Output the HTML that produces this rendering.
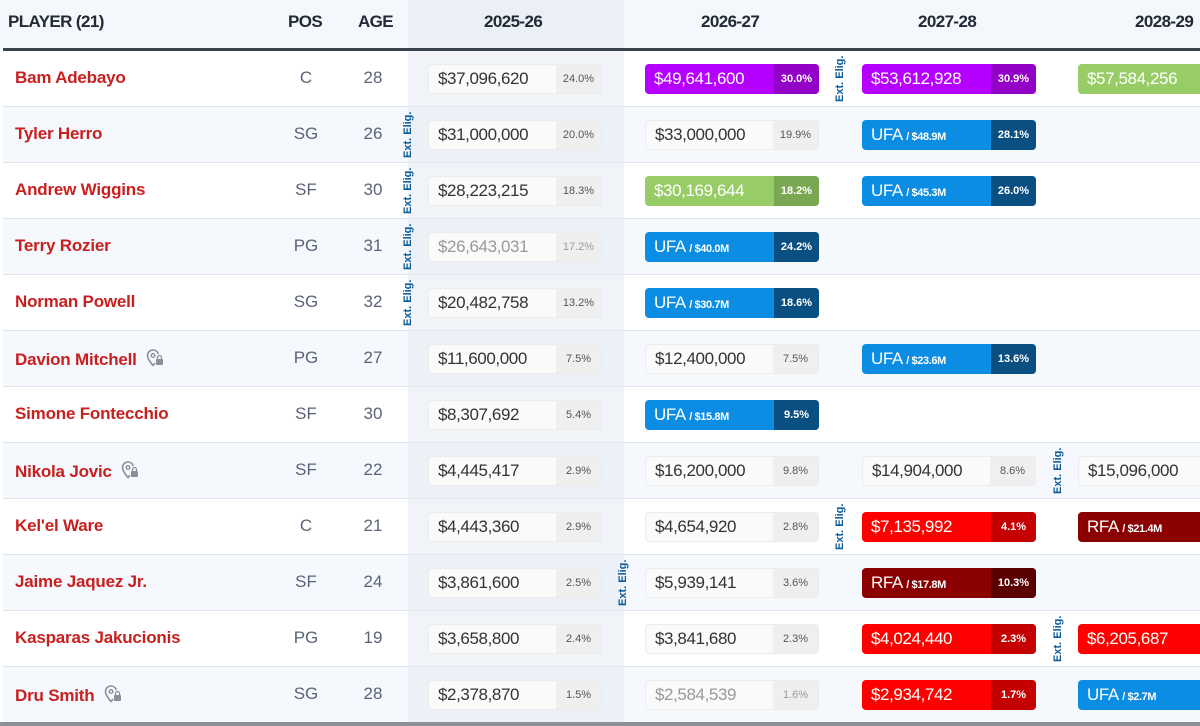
<!DOCTYPE html>
<html><head><meta charset="utf-8">
<style>
*{box-sizing:border-box;margin:0;padding:0}
body{width:1200px;height:726px;overflow:hidden;background:#fff;font-family:"Liberation Sans",Arial,sans-serif;position:relative}
#wrap{position:absolute;left:0;top:0;width:1200px;height:726px}
.abs{position:absolute}
.hdr{position:absolute;top:0;left:0;width:1200px;height:49px;background:#f4f7fb}
.hline{position:absolute;top:48px;left:3px;width:1197px;height:3px;background:#3a4250}
.ht{position:absolute;top:12px;font-size:17px;font-weight:bold;color:#222a36;letter-spacing:-0.6px}
.row{position:absolute;left:3px;width:1197px;height:56px;border-bottom:1px solid #dde3ea}
.name{position:absolute;left:15px;font-size:17px;font-weight:bold;color:#c81f1f;line-height:20px;letter-spacing:-0.2px}
.pos,.age{position:absolute;font-size:17px;color:#5a6478;text-align:center;width:50px;line-height:20px}
.box{position:absolute;height:30px;width:174px;border-radius:4px;overflow:hidden;display:flex}
.m{flex:1;padding-left:9px;font-size:17px;line-height:30px;white-space:nowrap;letter-spacing:-0.4px}
.p{width:45px;font-size:11px;text-align:center;line-height:30px}
.plain{background:#fafafa;border:1px solid #ececec}
.plain .m{color:#333;line-height:28px}
.plain .p{background:#efefef;color:#555;line-height:28px}
.grey .m{color:#999}.grey .p{color:#999}
.col .m{color:#fff}.col .p{color:#fff;font-weight:bold}
.sm{font-size:11px;font-weight:bold}
.ext{position:absolute;width:13px;height:48px;font-size:11px;font-weight:bold;color:#0a5a96;writing-mode:vertical-rl;transform:rotate(180deg);text-align:center;line-height:13px;white-space:nowrap}
</style></head><body>
<div id="wrap">
<div class="hdr"></div>
<div class="abs" style="left:408px;top:0;width:216px;height:722px;background:#e4eaf3;opacity:0.55"></div>
<div class="ht" style="left:8px">PLAYER (21)</div>
<div class="ht" style="left:288px">POS</div>
<div class="ht" style="left:358px">AGE</div>
<div class="ht" style="left:484px">2025-26</div>
<div class="ht" style="left:701px">2026-27</div>
<div class="ht" style="left:918px">2027-28</div>
<div class="ht" style="left:1135px">2028-29</div>
<div class="hline"></div>
<div class="abs" style="left:0;top:722px;width:1200px;height:4px;background:#8a8f98"></div>
</div>
<script>
const players=["Bam Adebayo","Tyler Herro","Andrew Wiggins","Terry Rozier","Norman Powell","Davion Mitchell","Simone Fontecchio","Nikola Jovic","Kel'el Ware","Jaime Jaquez Jr.","Kasparas Jakucionis","Dru Smith"];
const positions=["C","SG","SF","PG","SG","PG","SF","SF","C","SF","PG","SG"];
const ages=[28,26,30,31,32,27,30,22,21,24,19,28];
const lockIcon=[0,0,0,0,0,1,0,1,0,0,0,1];
// cell: [type, amount, pct]
const season2025=[["plain","$37,096,620","24.0%"],["plain","$31,000,000","20.0%"],["plain","$28,223,215","18.3%"],["grey","$26,643,031","17.2%"],["plain","$20,482,758","13.2%"],["plain","$11,600,000","7.5%"],["plain","$8,307,692","5.4%"],["plain","$4,445,417","2.9%"],["plain","$4,443,360","2.9%"],["plain","$3,861,600","2.5%"],["plain","$3,658,800","2.4%"],["plain","$2,378,870","1.5%"]];
const season2026=[["purple","$49,641,600","30.0%"],["plain","$33,000,000","19.9%"],["green","$30,169,644","18.2%"],["ufa","$40.0M","24.2%"],["ufa","$30.7M","18.6%"],["plain","$12,400,000","7.5%"],["ufa","$15.8M","9.5%"],["plain","$16,200,000","9.8%"],["plain","$4,654,920","2.8%"],["plain","$5,939,141","3.6%"],["plain","$3,841,680","2.3%"],["grey","$2,584,539","1.6%"]];
const season2027=[["purple","$53,612,928","30.9%"],["ufa","$48.9M","28.1%"],["ufa","$45.3M","26.0%"],null,null,["ufa","$23.6M","13.6%"],null,["plain","$14,904,000","8.6%"],["red","$7,135,992","4.1%"],["rfa","$17.8M","10.3%"],["red","$4,024,440","2.3%"],["red","$2,934,742","1.7%"]];
const season2028=[["green","$57,584,256",""],null,null,null,null,null,null,["plain","$15,096,000",""],["rfa","$21.4M",""],null,["red","$6,205,687",""],["ufa","$2.7M",""]];
const extElig=[[1,0],[2,0],[3,0],[4,0],[0,2],[7,3],[8,2],[9,1],[10,3]];
const seasons=[season2025,season2026,season2027,season2028];
const colX=[428,645,862,1078];
const extX=[402,617,834,1052];
const colors={purple:["#b600ff","#9300c8"],green:["#98cc66","#7aa852"],ufa:["#0a8de3","#0a4f82"],red:["#ff0000","#c40000"],rfa:["#8b0000","#5a0000"]};
const wrap=document.getElementById('wrap');
const rowTop=i=>51+56*i;
players.forEach((n,i)=>{
  const r=document.createElement('div');r.className='row';
  
  
  r.style.top=rowTop(i)+'px';r.style.background=i%2?'#f5f8fc':'#fff';
  wrap.insertBefore(r,wrap.children[1]);
  const cy=rowTop(i)+27;
  const nm=document.createElement('div');nm.className='name';nm.style.top=(cy-10)+'px';
  nm.textContent=n;
  
  
  if(lockIcon[i]){nm.innerHTML=n+' <svg width="20" height="20" viewBox="0 0 20 20" style="vertical-align:-3px;margin-left:4px"><path d="M8 2a5.5 5.5 0 0 0-5.5 5.5c0 4 5.5 10 5.5 10s1-1.1 2-2.5" fill="none" stroke="#8a909a" stroke-width="1.6"/><path d="M8 2a5.5 5.5 0 0 1 5.3 4" fill="none" stroke="#8a909a" stroke-width="1.6"/><circle cx="8" cy="7.5" r="1.8" fill="none" stroke="#8a909a" stroke-width="1.4"/><rect x="11" y="11" width="7" height="6" rx="1" fill="#8a909a"/><path d="M12.5 11v-1.5a2 2 0 0 1 4 0V11" fill="none" stroke="#8a909a" stroke-width="1.3"/></svg>';}
  wrap.appendChild(nm);
  const p=document.createElement('div');p.className='pos';p.style.left='281px';p.style.top=(cy-10)+'px';p.textContent=positions[i];
  
  
  wrap.appendChild(p);
  const a=document.createElement('div');a.className='age';a.style.left='348px';a.style.top=(cy-10)+'px';a.textContent=ages[i];
  
  
  wrap.appendChild(a);
  seasons.forEach((s,c)=>{
    const d=s[i];if(!d)return;
    const b=document.createElement('div');
    
    
    const t=d[0];
    b.className='box '+(t==='plain'||t==='grey'?'plain'+(t==='grey'?' grey':''):'col');
    b.style.left=colX[c]+'px';b.style.top=(cy-14)+'px';
    if(c===3)b.style.width='140px';
    let money=d[1];
    if(t==='ufa'||t==='rfa'){money=(t==='ufa'?'UFA':'RFA')+' <span class="sm">/ '+d[1]+'</span>';}
    b.innerHTML='<div class="m">'+money+'</div>'+(d[2]?'<div class="p">'+d[2]+'</div>':'');
    if(colors[t]){b.style.background=colors[t][0];const pp=b.querySelector('.p');if(pp)pp.style.background=colors[t][1];}
    wrap.appendChild(b);
  });
});
extElig.forEach(([ri,c])=>{
  const e=document.createElement('div');e.className='ext';
  
  
  e.textContent='Ext. Elig.';
  e.style.left=extX[c]+'px';e.style.top=(rowTop(ri)+4)+'px';
  wrap.appendChild(e);
});
</script>
</body></html>
